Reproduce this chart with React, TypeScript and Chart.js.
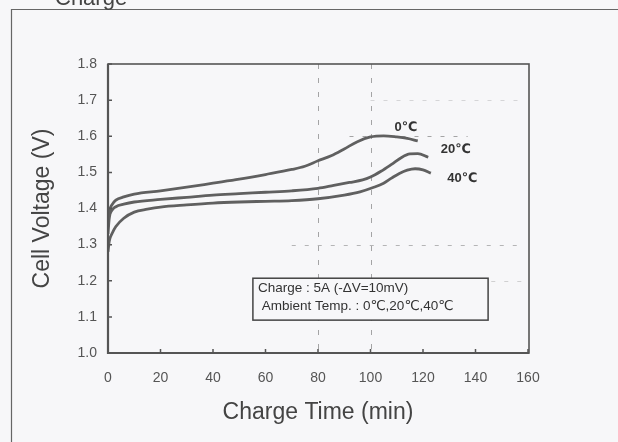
import React, { useEffect, useRef } from "react";
import { Chart, registerables } from "chart.js";

Chart.register(...registerables);

// ---- data ----
const time0C = [0, 0.5, 1.5, 3, 6, 10, 20, 30, 40, 50, 60, 70, 75, 80, 85, 90, 95, 100, 105, 110, 114, 118];
const volt0C = [1.35, 1.39, 1.41, 1.423, 1.432, 1.44, 1.449, 1.459, 1.47, 1.481, 1.494, 1.508, 1.517, 1.532, 1.546, 1.565, 1.585, 1.598, 1.601, 1.598, 1.594, 1.587];

const time20C = [0, 0.5, 1.5, 3, 6, 10, 20, 30, 40, 50, 60, 70, 80, 86, 92, 97, 100, 104, 108, 112, 115, 118, 122];
const volt20C = [1.33, 1.375, 1.395, 1.405, 1.412, 1.418, 1.425, 1.431, 1.437, 1.441, 1.445, 1.449, 1.456, 1.464, 1.472, 1.479, 1.487, 1.503, 1.522, 1.542, 1.551, 1.552, 1.542];

const time40C = [0, 0.5, 1.5, 3, 6, 10, 15, 20, 30, 40, 50, 60, 70, 80, 90, 96, 101, 105, 108, 111, 114, 117, 120, 123];
const volt40C = [1.28, 1.31, 1.33, 1.35, 1.373, 1.39, 1.398, 1.404, 1.41, 1.415, 1.418, 1.42, 1.422, 1.427, 1.437, 1.446, 1.458, 1.47, 1.484, 1.497, 1.506, 1.51, 1.507, 1.498];

const seriesLabels = ["0℃", "20℃", "40℃"];
const xTickValues = [0, 20, 40, 60, 80, 100, 120, 140, 160];
const yTickValues = [1.0, 1.1, 1.2, 1.3, 1.4, 1.5, 1.6, 1.7, 1.8];
const noteLines = ["Charge : 5A (-ΔV=10mV)", " Ambient Temp. : 0℃,20℃,40℃"];
const xTitle = "Charge Time (min)";
const yTitle = "Cell Voltage (V)";
const frameTitle = "Charge";

// ---- annotation placement (data units) ----
const labelAnchors = [
  { x: 113.5, y: 1.624 },
  { x: 132.5, y: 1.563 },
  { x: 135, y: 1.482 },
];
const noteBox = { x0: 55.2, x1: 144.8, y0: 1.091, y1: 1.207 };
const guides = [
  { kind: "v", at: 80, from: 1.0, to: 1.8, alpha: 0.75 },
  { kind: "v", at: 100, from: 1.0, to: 1.8, alpha: 0.75 },
  { kind: "h", at: 1.3, from: 70, to: 158, alpha: 0.6 },
  { kind: "h", at: 1.6, from: 92, to: 137, alpha: 0.75 },
  { kind: "h", at: 1.7, from: 100, to: 156, alpha: 0.3 },
  { kind: "h", at: 1.2, from: 146, to: 158, alpha: 0.35 },
];

const FONT = "'Liberation Sans', Arial, 'DejaVu Sans', sans-serif";
const BG = "#f7f7f9";
const INK = "#555555";

const toPoints = (t: number[], v: number[]) => t.map((x, i) => ({ x, y: v[i] }));

const decorPlugin = {
  id: "decor",
  beforeDraw(chart: any) {
    const { ctx, width, height } = chart;
    ctx.save();
    ctx.fillStyle = BG;
    ctx.fillRect(0, 0, width, height);
    ctx.restore();
  },
  beforeDatasetsDraw(chart: any) {
    const { ctx, scales } = chart;
    const xs = scales.x, ys = scales.y;
    ctx.save();
    ctx.strokeStyle = "#888";
    ctx.lineWidth = 1;
    guides.forEach((g) => {
      ctx.globalAlpha = g.alpha;
      ctx.beginPath();
      if (g.kind === "v") {
        ctx.setLineDash([5, 9]);
        const px = Math.round(xs.getPixelForValue(g.at)) + 0.5;
        ctx.moveTo(px, ys.getPixelForValue(g.to));
        ctx.lineTo(px, ys.getPixelForValue(g.from));
      } else {
        ctx.setLineDash([4, 9]);
        const py = Math.round(ys.getPixelForValue(g.at)) + 0.5;
        ctx.moveTo(xs.getPixelForValue(g.from), py);
        ctx.lineTo(xs.getPixelForValue(g.to), py);
      }
      ctx.stroke();
    });
    ctx.restore();
  },
  afterDraw(chart: any) {
    const { ctx, scales, chartArea } = chart;
    const xs = scales.x, ys = scales.y;
    const { left, right, top, bottom } = chartArea;
    ctx.save();

    // plot frame
    ctx.strokeStyle = INK;
    ctx.lineWidth = 1.6;
    ctx.strokeRect(left, top, right - left + 1, bottom - top);
    ctx.lineWidth = 2.2;
    ctx.beginPath();
    ctx.moveTo(left, top);
    ctx.lineTo(left, bottom);
    ctx.lineTo(right + 1, bottom);
    ctx.stroke();

    // inward tick marks
    ctx.lineWidth = 1.5;
    ctx.beginPath();
    yTickValues.forEach((v) => {
      const py = ys.getPixelForValue(v);
      ctx.moveTo(left, py);
      ctx.lineTo(left + 4, py);
    });
    xTickValues.forEach((v) => {
      const px = xs.getPixelForValue(v);
      ctx.moveTo(px, bottom);
      ctx.lineTo(px, bottom - 4);
    });
    ctx.stroke();

    // note box
    const bx0 = xs.getPixelForValue(noteBox.x0);
    const bx1 = xs.getPixelForValue(noteBox.x1);
    const by0 = ys.getPixelForValue(noteBox.y1);
    const by1 = ys.getPixelForValue(noteBox.y0);
    ctx.fillStyle = BG;
    ctx.fillRect(bx0, by0, bx1 - bx0, by1 - by0);
    ctx.strokeStyle = "#444";
    ctx.lineWidth = 1.5;
    ctx.strokeRect(bx0, by0, bx1 - bx0, by1 - by0);
    ctx.fillStyle = "#333";
    ctx.font = `13.5px ${FONT}`;
    ctx.textBaseline = "alphabetic";
    ctx.textAlign = "left";
    noteLines.forEach((line, i) => {
      ctx.fillText(line, bx0 + 5, by0 + 13.5 + i * 18.5);
    });

    // series labels
    ctx.font = `bold 13px ${FONT}`;
    ctx.fillStyle = "#333";
    ctx.textAlign = "center";
    ctx.textBaseline = "middle";
    seriesLabels.forEach((lab, i) => {
      const a = labelAnchors[i];
      ctx.fillText(lab, xs.getPixelForValue(a.x), ys.getPixelForValue(a.y));
    });

    // outer frame of the scanned figure
    ctx.strokeStyle = "#666";
    ctx.lineWidth = 1.2;
    ctx.beginPath();
    ctx.moveTo(11.5, 442);
    ctx.lineTo(11.5, 9.5);
    ctx.lineTo(618, 9.5);
    ctx.stroke();

    // clipped figure title
    ctx.font = `22px ${FONT}`;
    ctx.fillStyle = "#444";
    ctx.textAlign = "left";
    ctx.textBaseline = "alphabetic";
    ctx.fillText(frameTitle, 55, 4.5);

    ctx.restore();
  },
};

export default function App() {
  const ref = useRef<HTMLCanvasElement | null>(null);

  useEffect(() => {
    if (!ref.current) return;
    const lineStyle = {
      borderColor: "#606060",
      borderWidth: 2.8,
      pointRadius: 0,
      showLine: true,
      tension: 0.4,
      cubicInterpolationMode: "monotone" as const,
      fill: false,
    };
    const chart = new Chart(ref.current, {
      type: "scatter",
      data: {
        datasets: [
          { label: seriesLabels[0], data: toPoints(time0C, volt0C), ...lineStyle },
          { label: seriesLabels[1], data: toPoints(time20C, volt20C), ...lineStyle },
          { label: seriesLabels[2], data: toPoints(time40C, volt40C), ...lineStyle },
        ],
      },
      options: {
        animation: false,
        responsive: false,
        devicePixelRatio: 1,
        layout: { padding: { left: 0, top: 64, right: 90, bottom: 0 } },
        plugins: {
          legend: { display: false },
          tooltip: { enabled: false },
          title: { display: false },
        },
        scales: {
          x: {
            type: "linear",
            min: 0,
            max: 160,
            grid: { display: false, drawTicks: false },
            border: { display: false },
            afterBuildTicks: (s: any) => {
              s.ticks = xTickValues.map((v) => ({ value: v }));
            },
            afterFit: (s: any) => {
              s.height = 89;
            },
            ticks: {
              color: INK,
              font: { family: FONT, size: 14 },
              padding: 17,
              maxRotation: 0,
              autoSkip: false,
            },
            title: {
              display: true,
              text: xTitle,
              color: "#444",
              font: { family: FONT, size: 23 },
              padding: { top: 0, bottom: 16 },
            },
          },
          y: {
            type: "linear",
            min: 1.0,
            max: 1.8,
            grid: { display: false, drawTicks: false },
            border: { display: false },
            afterBuildTicks: (s: any) => {
              s.ticks = yTickValues.map((v) => ({ value: v }));
            },
            afterFit: (s: any) => {
              s.width = 108;
            },
            ticks: {
              color: INK,
              font: { family: FONT, size: 14 },
              padding: 11,
              autoSkip: false,
              callback: (v: any) => Number(v).toFixed(1),
            },
            title: {
              display: true,
              text: yTitle,
              color: "#444",
              font: { family: FONT, size: 23 },
              padding: { top: 29, bottom: 0 },
            },
          },
        },
      },
      plugins: [decorPlugin],
    });
    return () => chart.destroy();
  }, []);

  return (
    <div style={{ position: "absolute", left: 0, top: 0, width: 618, height: 442 }}>
      <canvas ref={ref} width={618} height={442} style={{ display: "block", width: 618, height: 442 }} />
    </div>
  );
}
